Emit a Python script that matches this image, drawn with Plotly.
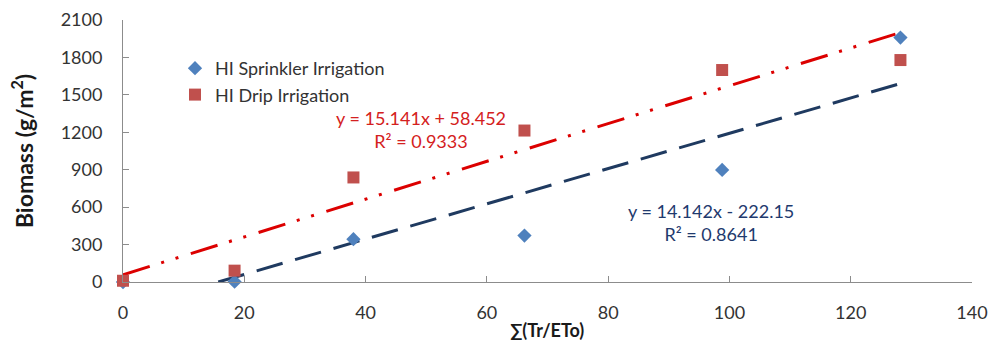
import plotly.graph_objects as go
import numpy as np

x_sprinkler = [0, 18.4, 38.0, 66.2, 98.8, 128.2]
y_sprinkler = [0, 3, 343, 372, 898, 1959]
x_drip = [0, 18.4, 38.0, 66.2, 98.8, 128.2]
y_drip = [10, 91, 838, 1214, 1699, 1779]

slope_s, icpt_s = 14.142, -222.15
slope_d, icpt_d = 15.141, 58.452

eq_s = ["y = 14.142x - 222.15", "R² = 0.8641"]
eq_d = ["y = 15.141x + 58.452", "R² = 0.9333"]

x_ticks = [0, 20, 40, 60, 80, 100, 120, 140]
y_ticks = [0, 300, 600, 900, 1200, 1500, 1800, 2100]

FONT = "Lato"
fig = go.Figure()

# trendlines
xs0 = -icpt_s / slope_s
xs = np.array([xs0, max(x_sprinkler)])
fig.add_trace(go.Scatter(x=xs, y=slope_s * xs + icpt_s, mode="lines",
                         line=dict(color="#1F3A60", width=3, dash="27px,13px"),
                         showlegend=False, hoverinfo="skip"))
xd = np.array([0, max(x_drip)])
fig.add_trace(go.Scatter(x=xd, y=slope_d * xd + icpt_d, mode="lines",
                         line=dict(color="#DC0000", width=3, dash="28px,12px,3px,12px,3px,13px"),
                         showlegend=False, hoverinfo="skip"))

fig.add_trace(go.Scatter(x=x_sprinkler, y=y_sprinkler, mode="markers",
                         name="HI Sprinkler Irrigation",
                         marker=dict(symbol="diamond", size=11, color="#4F81BD"),
                         cliponaxis=False))
fig.add_trace(go.Scatter(x=x_drip, y=y_drip, mode="markers",
                         name="HI Drip Irrigation",
                         marker=dict(symbol="square", size=12, color="#C0504D"),
                         cliponaxis=False))

fig.add_annotation(x=49.1, y=1226, text=eq_d[0] + "<br>" + eq_d[1], showarrow=False,
                   font=dict(family=FONT, size=18, color="#D42020"), align="center")
fig.add_annotation(x=96.9, y=474, text=eq_s[0] + "<br>" + eq_s[1], showarrow=False,
                   font=dict(family=FONT, size=18, color="#1F3A6E"), align="center")

# x-axis title
fig.add_annotation(xref="paper", yref="paper", x=(547 - 123) / 849, y=-48 / 262,
                   xanchor="center", yanchor="middle", showarrow=False,
                   text="<b>∑(Tr/ETo)</b>", font=dict(family=FONT, size=18, color="#1a1a1a"))

fig.update_layout(
    width=990, height=348, autosize=False,
    margin=dict(l=123, r=18, t=20, b=66),
    paper_bgcolor="white", plot_bgcolor="white",
    font=dict(family=FONT, size=18, color="#333333"),
    legend=dict(x=52 / 849, y=1 - 30 / 262, xanchor="left", yanchor="top",
                bgcolor="rgba(0,0,0,0)", font=dict(size=18, color="#333333"),
                itemwidth=30),
    xaxis=dict(range=[0, 140], tickvals=x_ticks, showgrid=False, zeroline=False,
               showline=True, linecolor="#8C8C8C", linewidth=1,
               ticks="inside", ticklen=6, tickcolor="#8C8C8C",
               tickfont=dict(size=18), automargin=False, ticklabelstandoff=14,
               ticklabeloverflow="allow"),
    yaxis=dict(range=[0, 2100], tickvals=y_ticks, showgrid=False, zeroline=False,
               showline=True, linecolor="#8C8C8C", linewidth=1,
               ticks="inside", ticklen=6, tickcolor="#8C8C8C",
               tickfont=dict(size=18), automargin=False, ticklabelstandoff=16,
               ticklabeloverflow="allow",
               title=dict(text="<b>Biomass (g/m<sup>2</sup>)</b>", font=dict(size=23, color="#1a1a1a"), standoff=20)),
)

# remove the default 8px page margin so the figure fills the window exactly
fig.write_html("out.html", config={"displayModeBar": False},
               post_script="document.body.style.margin='0';document.body.style.overflow='hidden';")
